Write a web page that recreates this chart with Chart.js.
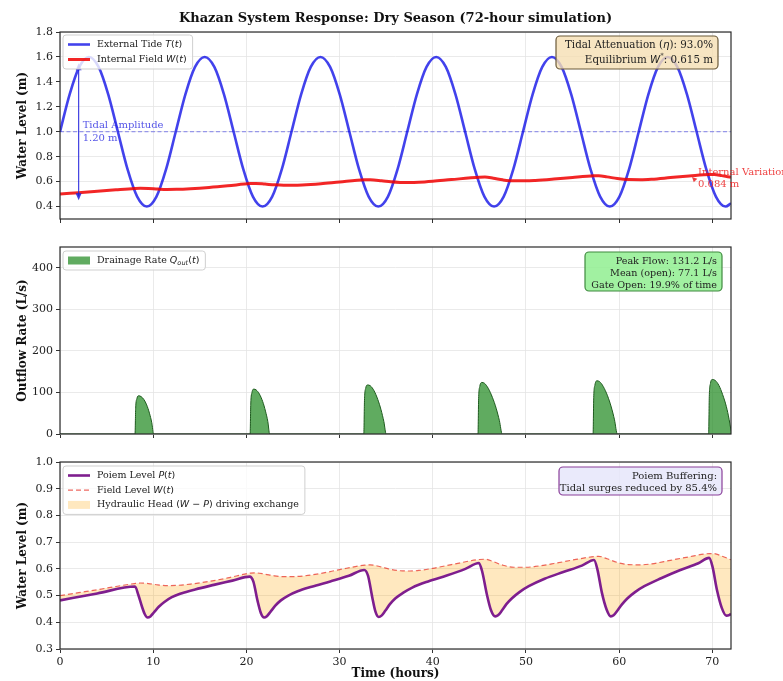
<!DOCTYPE html>
<html>
<head>
<meta charset="utf-8">
<script src="https://cdn.jsdelivr.net/npm/chart.js@4.4.1/dist/chart.umd.min.js"></script>
<style>
html, body { margin: 0; padding: 0; background: #fff; }
body { width: 783px; height: 681px; position: relative; overflow: hidden; }
canvas { position: absolute; left: 0; }
</style>
</head>
<body>
<canvas id="tide" width="783" height="236" style="top:0px"></canvas>
<canvas id="flow" width="783" height="214" style="top:236px"></canvas>
<canvas id="poiem" width="783" height="231" style="top:450px"></canvas>
<script>
/* global Chart */

// shared time axis
var hourTicks = [0, 10, 20, 30, 40, 50, 60, 70];

// panel 1: external tide T(t) and internal field W(t)
var tideHours = [0, 1.035, 2.07, 3.105, 4.14, 5.175, 6.21, 7.245, 8.28, 9.315, 10.35, 11.385,
	12.42, 13.455, 14.49, 15.525, 16.56, 17.595, 18.63, 19.665, 20.7, 21.735, 22.77, 23.805,
	24.84, 25.875, 26.91, 27.945, 28.98, 30.015, 31.05, 32.085, 33.12, 34.155, 35.19, 36.225,
	37.26, 38.295, 39.33, 40.365, 41.4, 42.435, 43.47, 44.505, 45.54, 46.575, 47.61, 48.645,
	49.68, 50.715, 51.75, 52.785, 53.82, 54.855, 55.89, 56.925, 57.96, 58.995, 60.03, 61.065,
	62.1, 63.135, 64.17, 65.205, 66.24, 67.275, 68.31, 69.345, 70.38, 71.415, 72];
var tideLevel = [1.0, 1.3, 1.52, 1.6, 1.52, 1.3, 1.0, 0.7, 0.48, 0.4, 0.48, 0.7,
	1.0, 1.3, 1.52, 1.6, 1.52, 1.3, 1.0, 0.7, 0.48, 0.4, 0.48, 0.7,
	1.0, 1.3, 1.52, 1.6, 1.52, 1.3, 1.0, 0.7, 0.48, 0.4, 0.48, 0.7,
	1.0, 1.3, 1.52, 1.6, 1.52, 1.3, 1.0, 0.7, 0.48, 0.4, 0.48, 0.7,
	1.0, 1.3, 1.52, 1.6, 1.52, 1.3, 1.0, 0.7, 0.48, 0.4, 0.48, 0.7,
	1.0, 1.3, 1.52, 1.6, 1.52, 1.3, 1.0, 0.7, 0.48, 0.4, 0.426];
var fieldHours = [0, 2, 4, 6, 8, 8.6, 9.5, 10.5, 11.5, 12.5, 14, 16, 18, 20.4, 21, 22, 23, 24, 25, 26,
	28, 30, 32.7, 33.3, 34.5, 35.5, 36.5, 37.5, 38.5, 40, 42, 45, 45.6, 46.5, 47.5, 48.7, 50, 51, 53, 55,
	57.3, 57.8, 58.7, 59.8, 61, 62.3, 63.5, 65.5, 67.5, 69.7, 70.2, 71, 72];
var fieldLevel = [0.500, 0.511, 0.522, 0.534, 0.545, 0.547, 0.545, 0.540, 0.537, 0.538, 0.543, 0.553, 0.566, 0.584, 0.585, 0.580, 0.574, 0.571, 0.571, 0.573,
	0.583, 0.597, 0.614, 0.615, 0.607, 0.598, 0.593, 0.592, 0.594, 0.602, 0.616, 0.635, 0.636, 0.627, 0.614, 0.606, 0.606, 0.609, 0.620, 0.633,
	0.646, 0.647, 0.638, 0.624, 0.616, 0.615, 0.619, 0.632, 0.645, 0.657, 0.657, 0.648, 0.634];
var meanTideHours = [0, 72];
var meanTideLevel = [1.0, 1.0];
var topLevelTicks = [0.4, 0.6, 0.8, 1.0, 1.2, 1.4, 1.6, 1.8];

// panel 2: drainage rate Q_out(t)
var flowHours = [0,
	8.05, 8.12, 8.25, 8.45, 8.7, 9.0, 9.3, 9.6, 9.85, 10.05,
	20.4, 20.47, 20.6, 20.8, 21.05, 21.4, 21.75, 22.05, 22.3, 22.5,
	32.6, 32.67, 32.8, 33.0, 33.3, 33.7, 34.1, 34.45, 34.75, 35.0,
	44.85, 44.92, 45.05, 45.25, 45.55, 45.95, 46.4, 46.8, 47.15, 47.45,
	57.2, 57.27, 57.4, 57.6, 57.9, 58.3, 58.75, 59.15, 59.5, 59.8,
	69.6, 69.67, 69.8, 70.0, 70.3, 70.7, 71.1, 71.5, 71.8, 72];
var flowRate = [0,
	0, 62, 85, 92, 90, 83, 70, 50, 27, 0,
	0, 72, 100, 108, 106, 96, 78, 55, 30, 0,
	0, 80, 110, 118, 116, 104, 83, 58, 30, 0,
	0, 85, 115, 124, 122, 110, 88, 62, 32, 0,
	0, 88, 118, 128, 126, 114, 92, 65, 34, 0,
	0, 90, 122, 131.2, 129, 117, 95, 66, 35, 8];
var flowTicks = [0, 100, 200, 300, 400];

// panel 3: poiem level P(t) against field level W(t)
var poiemHours = [0, 4, 8.05, 8.4, 8.8, 9.1, 9.4, 9.7, 10.1, 10.6, 11.2, 12, 13, 14.5, 16.5, 18.5,
	20.35, 20.75, 21.2, 21.55, 21.9, 22.2, 22.6, 23.1, 23.7, 24.5, 25.5, 27, 29, 31,
	32.65, 33.05, 33.5, 33.85, 34.2, 34.5, 34.9, 35.4, 36, 36.8, 37.8, 39.5, 41.5, 43.5,
	44.95, 45.3, 45.8, 46.25, 46.7, 47, 47.4, 47.9, 48.5, 49.3, 50.3, 52, 54, 56,
	57.3, 57.65, 58.15, 58.65, 59.1, 59.4, 59.8, 60.3, 60.9, 61.7, 62.7, 64.5, 66.5, 68.5,
	69.65, 70, 70.5, 71, 71.5, 71.8, 72];
var poiemLevel = [0.482, 0.508, 0.534, 0.503, 0.458, 0.430, 0.418, 0.422, 0.438, 0.458, 0.476, 0.494, 0.508, 0.523, 0.540, 0.556,
	0.571, 0.552, 0.480, 0.435, 0.418, 0.423, 0.440, 0.462, 0.482, 0.500, 0.516, 0.533, 0.553, 0.574,
	0.596, 0.575, 0.495, 0.440, 0.420, 0.425, 0.443, 0.468, 0.490, 0.510, 0.530, 0.553, 0.575, 0.600,
	0.622, 0.590, 0.505, 0.445, 0.422, 0.426, 0.443, 0.468, 0.490, 0.513, 0.535, 0.563, 0.588, 0.612,
	0.633, 0.600, 0.510, 0.448, 0.422, 0.426, 0.443, 0.467, 0.490, 0.513, 0.535, 0.565, 0.595, 0.621,
	0.641, 0.610, 0.520, 0.455, 0.425, 0.427, 0.432];
var bottomLevelTicks = [0.3, 0.4, 0.5, 0.6, 0.7, 0.8, 0.9, 1.0];

var SERIF = "'DejaVu Serif', serif";
var SANS = "'DejaVu Sans', sans-serif";

Chart.defaults.font.family = SERIF;
Chart.defaults.font.size = 11;
Chart.defaults.color = '#222';

function toXY(xs, ys){
	return xs.map(function(x, i){ return { x: x, y: ys[i] }; });
}

// tiny mathtext: $...$ parts get italic letters, _{..} sub, ^{..} sup
function parseText(str){
	var runs = [];
	str.split('$').forEach(function(part, i){
		if(!part) return;
		if(i % 2 === 0){ runs.push({ s: part }); return; }
		var re = /([_^])\{([^}]*)\}|([A-Za-z\u03b1-\u03c9]+)|([^A-Za-z\u03b1-\u03c9_^]+)/g, m;
		while((m = re.exec(part))){
			if(m[1]) runs.push({ s: m[2], i: true, sub: m[1] === '_', sup: m[1] === '^' });
			else if(m[3]) runs.push({ s: m[3], i: true });
			else runs.push({ s: m[4], math: true });
		}
	});
	return runs;
}

function runFont(r, size){
	var sz = (r.sub || r.sup) ? size * 0.7 : size;
	return (r.i ? 'italic ' : '') + sz + 'px ' + (r.i || r.math ? SANS : SERIF);
}

function drawRich(ctx, str, x, y, size, align){
	var runs = parseText(str), w = 0;
	runs.forEach(function(r){ ctx.font = runFont(r, size); w += ctx.measureText(r.s).width; });
	var cx = align === 'right' ? x - w : align === 'center' ? x - w / 2 : x;
	ctx.textAlign = 'left';
	ctx.textBaseline = 'middle';
	runs.forEach(function(r){
		ctx.font = runFont(r, size);
		var dy = r.sub ? size * 0.28 : r.sup ? -size * 0.35 : 0;
		ctx.fillText(r.s, cx, y + dy);
		cx += ctx.measureText(r.s).width;
	});
	return w;
}

function richWidth(ctx, str, size){
	var w = 0;
	parseText(str).forEach(function(r){ ctx.font = runFont(r, size); w += ctx.measureText(r.s).width; });
	return w;
}

function roundRect(ctx, x, y, w, h, r){
	ctx.beginPath();
	ctx.moveTo(x + r, y);
	ctx.arcTo(x + w, y, x + w, y + h, r);
	ctx.arcTo(x + w, y + h, x, y + h, r);
	ctx.arcTo(x, y + h, x, y, r);
	ctx.arcTo(x, y, x + w, y, r);
	ctx.closePath();
}

function drawLegend(ctx, x, y, items, size, rowGap){
	var maxW = 0;
	items.forEach(function(it){ maxW = Math.max(maxW, richWidth(ctx, it.label, size)); });
	var w = 5 + 22 + 7 + maxW + 6;
	var h = 19 + (items.length - 1) * rowGap;
	roundRect(ctx, x, y, w, h, 3);
	ctx.fillStyle = 'rgba(255,255,255,0.8)';
	ctx.fill();
	ctx.strokeStyle = '#cfcfcf';
	ctx.lineWidth = 1;
	ctx.stroke();
	items.forEach(function(it, i){
		var ry = y + 9.5 + i * rowGap;
		if(it.type === 'patch'){
			ctx.fillStyle = it.fill;
			ctx.fillRect(x + 5, ry - 4, 22, 8);
			if(it.edge){ ctx.strokeStyle = it.edge; ctx.lineWidth = 0.8; ctx.strokeRect(x + 5, ry - 4, 22, 8); }
		}
		else {
			ctx.strokeStyle = it.color;
			ctx.lineWidth = it.width;
			ctx.setLineDash(it.dash || []);
			ctx.beginPath();
			ctx.moveTo(x + 5, ry);
			ctx.lineTo(x + 27, ry);
			ctx.stroke();
			ctx.setLineDash([]);
		}
		ctx.fillStyle = '#222';
		drawRich(ctx, it.label, x + 34, ry, size, 'left');
	});
}

function drawNote(ctx, box, lines, size, lineGap){
	roundRect(ctx, box.x, box.y, box.w, box.h, 4);
	ctx.fillStyle = box.fill;
	ctx.fill();
	ctx.strokeStyle = box.edge;
	ctx.lineWidth = 1.2;
	ctx.stroke();
	ctx.fillStyle = '#222';
	lines.forEach(function(line, i){
		drawRich(ctx, line, box.x + box.w - 5, box.y + 9 + i * lineGap, size, 'right');
	});
}

function arrowHead(ctx, x1, y1, x2, y2, len, half){
	var a = Math.atan2(y2 - y1, x2 - x1);
	ctx.beginPath();
	ctx.moveTo(x2, y2);
	ctx.lineTo(x2 - len * Math.cos(a) + half * Math.sin(a), y2 - len * Math.sin(a) - half * Math.cos(a));
	ctx.lineTo(x2 - len * Math.cos(a) - half * Math.sin(a), y2 - len * Math.sin(a) + half * Math.cos(a));
	ctx.closePath();
	ctx.fill();
}

function gridOpts(){
	return { color: '#e4e4e4', lineWidth: 0.8, tickLength: 4, tickColor: '#333', tickWidth: 1 };
}

function makeChart(id, top, height, areaTop, areaBottom, datasets, y, showX, draw){
	return new Chart(document.getElementById(id), {
		type: 'line',
		data: { datasets: datasets },
		options: {
			responsive: false,
			animation: false,
			devicePixelRatio: 1,
			layout: { padding: { left: 0, right: 52, top: areaTop - top, bottom: 0 } },
			elements: { point: { radius: 0 }, line: { cubicInterpolationMode: 'monotone' } },
			plugins: {
				legend: { display: false },
				tooltip: { enabled: false },
				filler: { drawTime: 'beforeDatasetsDraw' }
			},
			scales: {
				x: {
					type: 'linear', min: 0, max: 72,
					afterBuildTicks: function(s){ s.ticks = hourTicks.map(function(v){ return { value: v }; }); },
					afterFit: function(s){ s.height = top + height - areaBottom; },
					grid: gridOpts(),
					border: { display: false },
					ticks: { display: showX, padding: 3, color: '#222', font: { family: SERIF, size: 11 } },
					title: { display: showX, text: 'Time (hours)', color: '#111', font: { family: SERIF, size: 12, weight: 'bold' }, padding: { top: 0, bottom: 0 } }
				},
				y: {
					type: 'linear', min: y.min, max: y.max,
					afterBuildTicks: function(s){ s.ticks = y.ticks.map(function(v){ return { value: v }; }); },
					afterFit: function(s){ s.width = 60; },
					grid: gridOpts(),
					border: { display: false },
					ticks: { padding: 3, color: '#222', font: { family: SERIF, size: 11 }, callback: function(v){ return v.toFixed(y.digits); } },
					title: { display: true, text: y.title, color: '#111', font: { family: SERIF, size: 12, weight: 'bold' }, padding: { top: 16 } }
				}
			}
		},
		plugins: [{
			id: 'decor',
			afterDatasetsDraw: function(chart){
				var ctx = chart.ctx, a = chart.chartArea;
				ctx.save();
				ctx.strokeStyle = '#2a2a2a';
				ctx.lineWidth = 1.2;
				ctx.strokeRect(a.left, a.top, a.right - a.left, a.bottom - a.top);
				ctx.translate(0, -top);
				draw(ctx, chart);
				ctx.restore();
			}
		}]
	});
}

// panel 1
makeChart('tide', 0, 236, 32, 219, [
	{ data: toXY(fieldHours, fieldLevel), borderColor: 'rgba(240,0,0,0.85)', borderWidth: 3 },
	{ data: toXY(tideHours, tideLevel), borderColor: 'rgba(0,0,230,0.74)', borderWidth: 2.6 },
	{ data: toXY(meanTideHours, meanTideLevel), borderColor: 'rgba(40,40,230,0.55)', borderWidth: 1, borderDash: [4, 2.5] }
], { min: 0.3, max: 1.8, ticks: topLevelTicks, digits: 1, title: 'Water Level (m)' }, false, function(ctx, chart){
	var xs = chart.scales.x, ys = chart.scales.y;

	ctx.fillStyle = '#111';
	ctx.font = 'bold 13px ' + SERIF;
	ctx.textAlign = 'center';
	ctx.textBaseline = 'middle';
	ctx.fillText('Khazan System Response: Dry Season (72-hour simulation)', 395.5, 19);

	// tidal amplitude arrow
	var ax = xs.getPixelForValue(2), y1 = ys.getPixelForValue(1.55), y2 = ys.getPixelForValue(0.45);
	ctx.strokeStyle = 'rgba(30,30,220,0.85)';
	ctx.fillStyle = 'rgba(30,30,220,0.85)';
	ctx.lineWidth = 1.2;
	ctx.beginPath();
	ctx.moveTo(ax, y1 + 4);
	ctx.lineTo(ax, y2 - 4);
	ctx.stroke();
	arrowHead(ctx, ax, y1 + 10, ax, y1, 7, 3);
	arrowHead(ctx, ax, y2 - 10, ax, y2, 7, 3);
	ctx.fillStyle = 'rgba(40,40,225,0.8)';
	ctx.font = '10px ' + SERIF;
	ctx.textAlign = 'left';
	ctx.fillText('Tidal Amplitude', ax + 4, ys.getPixelForValue(1.05));
	ctx.fillText('1.20 m', ax + 4, ys.getPixelForValue(0.945));

	// internal variation
	ctx.fillStyle = 'rgba(235,30,30,0.85)';
	ctx.fillText('Internal Variation', 698, 172);
	ctx.fillText('0.084 m', 698, 184);
	arrowHead(ctx, 698, 183, 692, 177, 5, 2.5);

	drawLegend(ctx, 63, 35, [
		{ type: 'line', color: 'rgba(0,0,230,0.74)', width: 2.6, label: 'External Tide $T(t)$' },
		{ type: 'line', color: 'rgba(240,0,0,0.85)', width: 3, label: 'Internal Field $W(t)$' }
	], 9.5, 15);

	drawNote(ctx, { x: 556, y: 36, w: 162, h: 33, fill: 'rgba(245,222,179,0.8)', edge: '#6b5a3a' },
		['Tidal Attenuation ($\u03b7$): 93.0%', 'Equilibrium $W^{*}$: 0.615 m'], 10.3, 15);
});

// panel 2
makeChart('flow', 236, 214, 247, 434, [
	{ data: toXY(flowHours, flowRate), borderColor: '#1d5a1d', borderWidth: 1, backgroundColor: 'rgba(34,139,34,0.72)', fill: 'origin' }
], { min: 0, max: 450, ticks: flowTicks, digits: 0, title: 'Outflow Rate (L/s)' }, false, function(ctx){
	drawLegend(ctx, 63, 251, [
		{ type: 'patch', fill: 'rgba(34,139,34,0.72)', label: 'Drainage Rate $Q_{out}(t)$' }
	], 9.5, 15);

	drawNote(ctx, { x: 585, y: 252, w: 137, h: 39, fill: 'rgba(144,238,144,0.85)', edge: '#3f8a3f' },
		['Peak Flow: 131.2 L/s', 'Mean (open): 77.1 L/s', 'Gate Open: 19.9% of time'], 9.6, 12.3);
});

// panel 3
makeChart('poiem', 450, 231, 462, 649, [
	{ data: toXY(poiemHours, poiemLevel), borderColor: '#7e1e8e', borderWidth: 2.6, fill: { target: 1 }, backgroundColor: 'rgba(255,165,0,0.25)' },
	{ data: toXY(fieldHours, fieldLevel), borderColor: 'rgba(230,40,30,0.7)', borderWidth: 1.2, borderDash: [5, 3] }
], { min: 0.3, max: 1.0, ticks: bottomLevelTicks, digits: 1, title: 'Water Level (m)' }, true, function(ctx){
	drawLegend(ctx, 63, 466, [
		{ type: 'line', color: '#7e1e8e', width: 2.6, label: 'Poiem Level $P(t)$' },
		{ type: 'line', color: 'rgba(230,40,30,0.7)', width: 1.2, dash: [5, 3], label: 'Field Level $W(t)$' },
		{ type: 'patch', fill: 'rgba(255,165,0,0.25)', label: 'Hydraulic Head $(W \u2212 P)$ driving exchange' }
	], 9.5, 14.7);

	drawNote(ctx, { x: 559, y: 467, w: 163, h: 28, fill: 'rgba(230,230,250,0.85)', edge: '#8a3f9a' },
		['Poiem Buffering:', 'Tidal surges reduced by 85.4%'], 10, 12.5);
});
</script>
</body>
</html>
